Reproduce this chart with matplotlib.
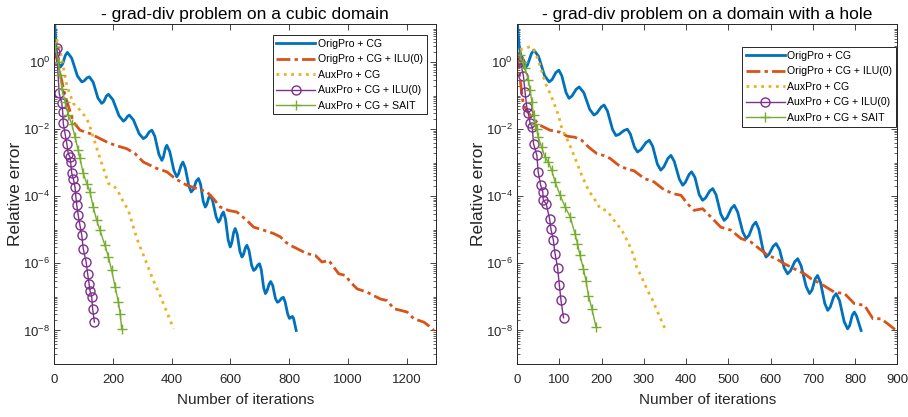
"""
两个 grad-div 问题的收敛曲线 (相对误差 vs 迭代次数)
"""

import numpy as np
import matplotlib
matplotlib.use("Agg")
import matplotlib.pyplot as plt
from matplotlib.ticker import LogLocator, NullFormatter, MultipleLocator

plt.rcParams['font.family'] = ['Liberation Sans', 'DejaVu Sans']
plt.rcParams['mathtext.fontset'] = 'custom'
plt.rcParams['mathtext.rm'] = 'Liberation Sans'
plt.rcParams['mathtext.it'] = 'Liberation Sans:italic'

labels = ['OrigPro + CG', 'OrigPro + CG + ILU(0)', 'AuxPro + CG',
          'AuxPro + CG + ILU(0)', 'AuxPro + CG + SAIT']

# ---------- 左图: cubic domain (数值为 log10 相对误差) ----------
cub_orig_it = [0, 6, 14, 21, 28, 37, 44, 52, 59, 78, 93, 101, 111, 119, 132,
               148, 161, 168, 177, 184, 199, 220, 235, 241, 249, 255, 269, 289,
               303, 312, 323, 332, 342, 356, 366, 371, 378, 383, 393, 407, 417,
               423, 432, 438, 446, 458, 466, 474, 483, 491, 498, 507, 514, 519,
               526, 531, 539, 551, 559, 564, 571, 576, 583, 592, 599, 604, 611,
               616, 623, 632, 639, 644, 651, 656, 663, 672, 679, 685, 693, 699,
               705, 713, 719, 724, 732, 737, 744, 753, 760, 766, 774, 780, 786,
               795, 801, 805, 811, 815, 824]
cub_orig_lg = [1.3, 0.35, -0.05, -0.14, -0.05, 0.20, 0.29, 0.20, 0.11, -0.41,
               -0.59, -0.56, -0.47, -0.44, -0.60, -1.07, -1.23, -1.18, -1.01,
               -0.96, -1.12, -1.60, -1.76, -1.72, -1.62, -1.58, -1.72, -2.14,
               -2.28, -2.23, -2.08, -2.03, -2.21, -2.75, -2.93, -2.84, -2.57,
               -2.48, -2.67, -3.23, -3.42, -3.33, -3.07, -2.98, -3.16, -3.69,
               -3.87, -3.79, -3.55, -3.47, -3.64, -4.15, -4.32, -4.25, -4.04,
               -3.97, -4.13, -4.61, -4.77, -4.71, -4.53, -4.47, -4.68, -5.30,
               -5.51, -5.40, -5.07, -4.96, -5.13, -5.64, -5.81, -5.74, -5.53,
               -5.46, -5.61, -6.06, -6.21, -6.17, -6.05, -6.01, -6.19, -6.72,
               -6.90, -6.83, -6.61, -6.54, -6.66, -7.04, -7.16, -7.13, -7.04,
               -7.01, -7.14, -7.51, -7.64, -7.62, -7.58, -7.64, -8.0]

cub_ilu_it = [0, 36, 64, 87, 121, 178, 207, 246, 275, 303, 349, 383, 411, 451,
              486, 520, 542, 565, 593, 622, 656, 679, 713, 747, 770, 787, 804,
              838, 861, 889, 912, 935, 952, 969, 992, 1009, 1032, 1066, 1088,
              1111, 1134, 1157, 1180, 1202, 1225, 1259, 1282, 1293]
cub_ilu_lg = [0.4, -0.99, -1.78, -2.03, -2.13, -2.38, -2.48, -2.58, -2.73,
              -2.98, -3.17, -3.27, -3.47, -3.67, -3.77, -3.87, -4.07, -4.32,
              -4.42, -4.47, -4.72, -4.92, -5.01, -5.11, -5.21, -5.36, -5.46,
              -5.61, -5.71, -5.76, -5.96, -5.91, -6.11, -6.31, -6.36, -6.56,
              -6.76, -6.86, -6.96, -7.06, -7.11, -7.35, -7.40, -7.45, -7.65,
              -7.75, -7.90, -8.0]

cub_aux_it = [0, 7, 20, 42, 64, 87, 110, 121, 132, 150, 167, 184, 201, 218,
              235, 252, 269, 281, 292, 315, 337, 360, 383, 406]
cub_aux_lg = [0.3, 0.71, 0.3, -0.69, -1.23, -1.43, -1.68, -1.93, -2.23, -2.73,
              -3.17, -3.62, -3.67, -3.87, -4.17, -4.42, -4.92, -5.26, -5.51,
              -6.01, -6.51, -6.96, -7.45, -7.95]

cub_auxilu_it = [0, 3, 7, 16, 25, 28, 30, 36, 42, 47, 53, 55, 59, 64, 70, 73,
                 76, 81, 87, 93, 98, 108, 113, 118, 121, 127, 130, 136]
cub_auxilu_lg = [0.11, 0.3, 0.41, -0.93, -1.23, -1.48, -1.83, -2.13, -2.43,
                 -2.73, -2.83, -2.98, -3.32, -3.47, -3.72, -4.02, -4.27, -4.57,
                 -4.87, -5.16, -5.56, -5.96, -6.31, -6.61, -6.81, -7.01, -7.35,
                 -7.75]

cub_sait_it = [2, 13, 19, 25, 36, 47, 59, 70, 81, 87, 98, 110, 121, 132, 144,
               155, 172, 184, 195, 207, 218, 224, 229]
cub_sait_lg = [0.46, 0.01, -0.39, -0.79, -1.18, -1.58, -1.85, -2.23, -2.63,
               -2.87, -3.32, -3.62, -3.87, -4.32, -4.72, -5.01, -5.46, -5.81,
               -6.21, -6.71, -7.16, -7.50, -7.95]

# ---------- 右图: domain with a hole ----------
hole_orig_it = [0, 5, 12, 19, 25, 34, 40, 51, 65, 76, 83, 92, 99, 106, 116,
                123, 130, 140, 147, 158, 172, 182, 189, 199, 206, 214, 226, 234,
                242, 253, 261, 268, 278, 285, 293, 305, 313, 321, 332, 340, 347,
                357, 364, 372, 384, 392, 398, 407, 413, 421, 431, 439, 446, 456,
                463, 471, 482, 490, 497, 507, 514, 522, 534, 542, 549, 558, 565,
                572, 582, 589, 596, 606, 613, 621, 632, 640, 647, 657, 664, 672,
                684, 692, 698, 705, 711, 718, 728, 735, 741, 749, 755, 763, 774,
                782, 787, 793, 798, 803, 814]
hole_orig_lg = [1.3, 0.5, -0.05, -0.19, -0.08, 0.25, 0.36, 0.17, -0.40, -0.59,
                -0.52, -0.31, -0.24, -0.41, -0.91, -1.08, -1.01, -0.81, -0.74,
                -0.91, -1.41, -1.58, -1.52, -1.34, -1.28, -1.46, -2.01, -2.19,
                -2.15, -2.04, -2.0, -2.14, -2.54, -2.68, -2.61, -2.40, -2.33,
                -2.51, -3.04, -3.22, -3.13, -2.87, -2.78, -2.96, -3.49, -3.67,
                -3.59, -3.35, -3.27, -3.44, -3.95, -4.12, -4.05, -3.84, -3.77,
                -3.96, -4.53, -4.72, -4.63, -4.36, -4.27, -4.47, -5.06, -5.26,
                -5.16, -4.87, -4.77, -4.98, -5.60, -5.81, -5.73, -5.49, -5.41,
                -5.59, -6.13, -6.31, -6.22, -5.95, -5.86, -6.07, -6.69, -6.90,
                -6.79, -6.47, -6.36, -6.57, -7.19, -7.40, -7.30, -7.00, -6.90,
                -7.11, -7.74, -7.95, -7.85, -7.55, -7.45, -7.56, -8.0]

hole_ilu_it = [0, 15, 31, 54, 78, 102, 119, 137, 153, 169, 189, 204, 220, 240,
               260, 277, 301, 324, 344, 368, 388, 403, 419, 439, 459, 482, 506,
               530, 553, 573, 593, 613, 632, 656, 680, 696, 719, 751, 775, 798,
               822, 842, 861, 877, 897]
hole_ilu_lg = [0.2, -1.28, -1.58, -1.88, -2.03, -2.09, -2.21, -2.24, -2.33,
               -2.53, -2.73, -2.78, -2.87, -3.07, -3.19, -3.24, -3.47, -3.57,
               -3.77, -3.92, -3.97, -4.22, -4.42, -4.37, -4.62, -4.92, -5.01,
               -5.26, -5.36, -5.56, -5.76, -5.86, -6.01, -6.16, -6.31, -6.46,
               -6.61, -6.86, -6.90, -7.20, -7.25, -7.65, -7.65, -7.80, -8.0]

hole_aux_it = [0, 3, 19, 31, 43, 54, 66, 78, 86, 98, 106, 118, 130, 141, 153,
               169, 185, 197, 212, 224, 236, 248, 264, 276, 283, 295, 307, 319,
               331, 352]
hole_aux_lg = [0.2, 0.36, 0.41, 0.46, 0.31, -0.09, -0.59, -0.93, -1.18, -1.58,
               -1.98, -2.28, -2.63, -2.98, -3.37, -3.82, -4.12, -4.37, -4.42,
               -4.62, -4.82, -5.01, -5.41, -5.76, -6.11, -6.41, -6.76, -7.05,
               -7.40, -8.0]

hole_auxilu_it = [0, 3, 8, 15, 19, 23, 27, 31, 36, 39, 47, 50, 56, 61, 62, 69,
                  77, 80, 86, 90, 96, 100, 104, 110]
hole_auxilu_lg = [0.05, 0.11, 0.0, -0.4, -0.89, -1.33, -1.53, -1.83, -1.93,
                  -2.43, -2.78, -3.27, -3.67, -3.87, -4.12, -4.22, -4.67, -4.96,
                  -5.31, -5.71, -6.13, -6.63, -7.10, -7.62]

hole_sait_it = [7, 13, 19, 27, 31, 35, 39, 43, 47, 50, 58, 66, 74, 82, 90, 102,
                114, 126, 137, 143, 149, 157, 163, 169, 177, 187]
hole_sait_lg = [0.21, 0.0, -0.19, -0.54, -0.84, -1.18, -1.58, -1.85, -2.0,
                -2.23, -2.53, -2.83, -2.98, -3.22, -3.57, -3.97, -4.32, -4.62,
                -5.11, -5.41, -5.76, -6.16, -6.51, -6.96, -7.35, -7.90]

colors = ['#0072BD', '#D95319', '#EDB120', '#7E2F8E', '#77AC30']


def draw_panel(ax, series, title, xmax, xstep):
    """画一个子图"""
    (o_it, o_lg), (i_it, i_lg), (a_it, a_lg), (ai_it, ai_lg), (s_it, s_lg) = series

    ax.semilogy(o_it, 10.0 ** np.array(o_lg), '-', color=colors[0], lw=2.0,
                label=labels[0], solid_joinstyle='round')
    ax.semilogy(i_it, 10.0 ** np.array(i_lg), color=colors[1], lw=2.0,
                linestyle=(0, (5, 1.5, 1.2, 1.5)), label=labels[1])
    ax.semilogy(a_it, 10.0 ** np.array(a_lg), ':', color=colors[2], lw=2.0,
                label=labels[2])
    ax.semilogy(ai_it, 10.0 ** np.array(ai_lg), '-o', color=colors[3], lw=1.0,
                ms=6.5, mfc='none', mew=1.0, label=labels[3])
    ax.semilogy(s_it, 10.0 ** np.array(s_lg), '-+', color=colors[4], lw=1.0,
                ms=7, mew=1.0, label=labels[4])

    ax.set_xlim(0, xmax)
    ax.set_ylim(1e-9, 10 ** 1.13)
    ax.xaxis.set_major_locator(MultipleLocator(xstep))
    ax.set_yticks([1e-8, 1e-6, 1e-4, 1e-2, 1e0])
    ax.yaxis.set_minor_locator(LogLocator(base=10, subs=np.arange(1, 10), numticks=30))
    ax.yaxis.set_minor_formatter(NullFormatter())

    ax.tick_params(which='both', direction='in', top=True, right=True,
                   colors='#262626', labelsize=9.5)
    ax.tick_params(axis='x', which='major', pad=7)
    ax.tick_params(axis='y', which='major', pad=3)
    ax.tick_params(which='major', length=4, width=0.6)
    ax.tick_params(which='minor', length=2, width=0.5)
    for sp in ax.spines.values():
        sp.set_color('#262626')
        sp.set_linewidth(0.7)

    ax.set_title(title, fontsize=12.5, pad=4)
    ax.set_xlabel('Number of iterations', fontsize=11, color='#262626', labelpad=5)
    ax.set_ylabel('Relative error', fontsize=12.5, color='#262626', labelpad=0)


fig = plt.figure(figsize=(9.08, 4.17), dpi=100)
ax1 = fig.add_axes([0.060, 0.127, 0.420, 0.815])
ax2 = fig.add_axes([0.5694, 0.127, 0.419, 0.815])

draw_panel(ax1, [(cub_orig_it, cub_orig_lg), (cub_ilu_it, cub_ilu_lg),
                 (cub_aux_it, cub_aux_lg), (cub_auxilu_it, cub_auxilu_lg),
                 (cub_sait_it, cub_sait_lg)],
           '- grad-div problem on a cubic domain', 1300, 200)
draw_panel(ax2, [(hole_orig_it, hole_orig_lg), (hole_ilu_it, hole_ilu_lg),
                 (hole_aux_it, hole_aux_lg), (hole_auxilu_it, hole_auxilu_lg),
                 (hole_sait_it, hole_sait_lg)],
           '- grad-div problem on a domain with a hole', 900, 100)

# 图例
for ax, anchor in [(ax1, (0.976, 0.968)), (ax2, (0.996, 0.932))]:
    leg = ax.legend(loc='upper right', bbox_to_anchor=anchor, borderaxespad=0,
                    fontsize=7.6, handlelength=3.7, handletextpad=0.25,
                    borderpad=0.35, labelspacing=0.52, fancybox=False,
                    framealpha=1)
    leg.get_frame().set_edgecolor('#262626')
    leg.get_frame().set_linewidth(0.7)

fig.savefig('out.png', dpi=100)
